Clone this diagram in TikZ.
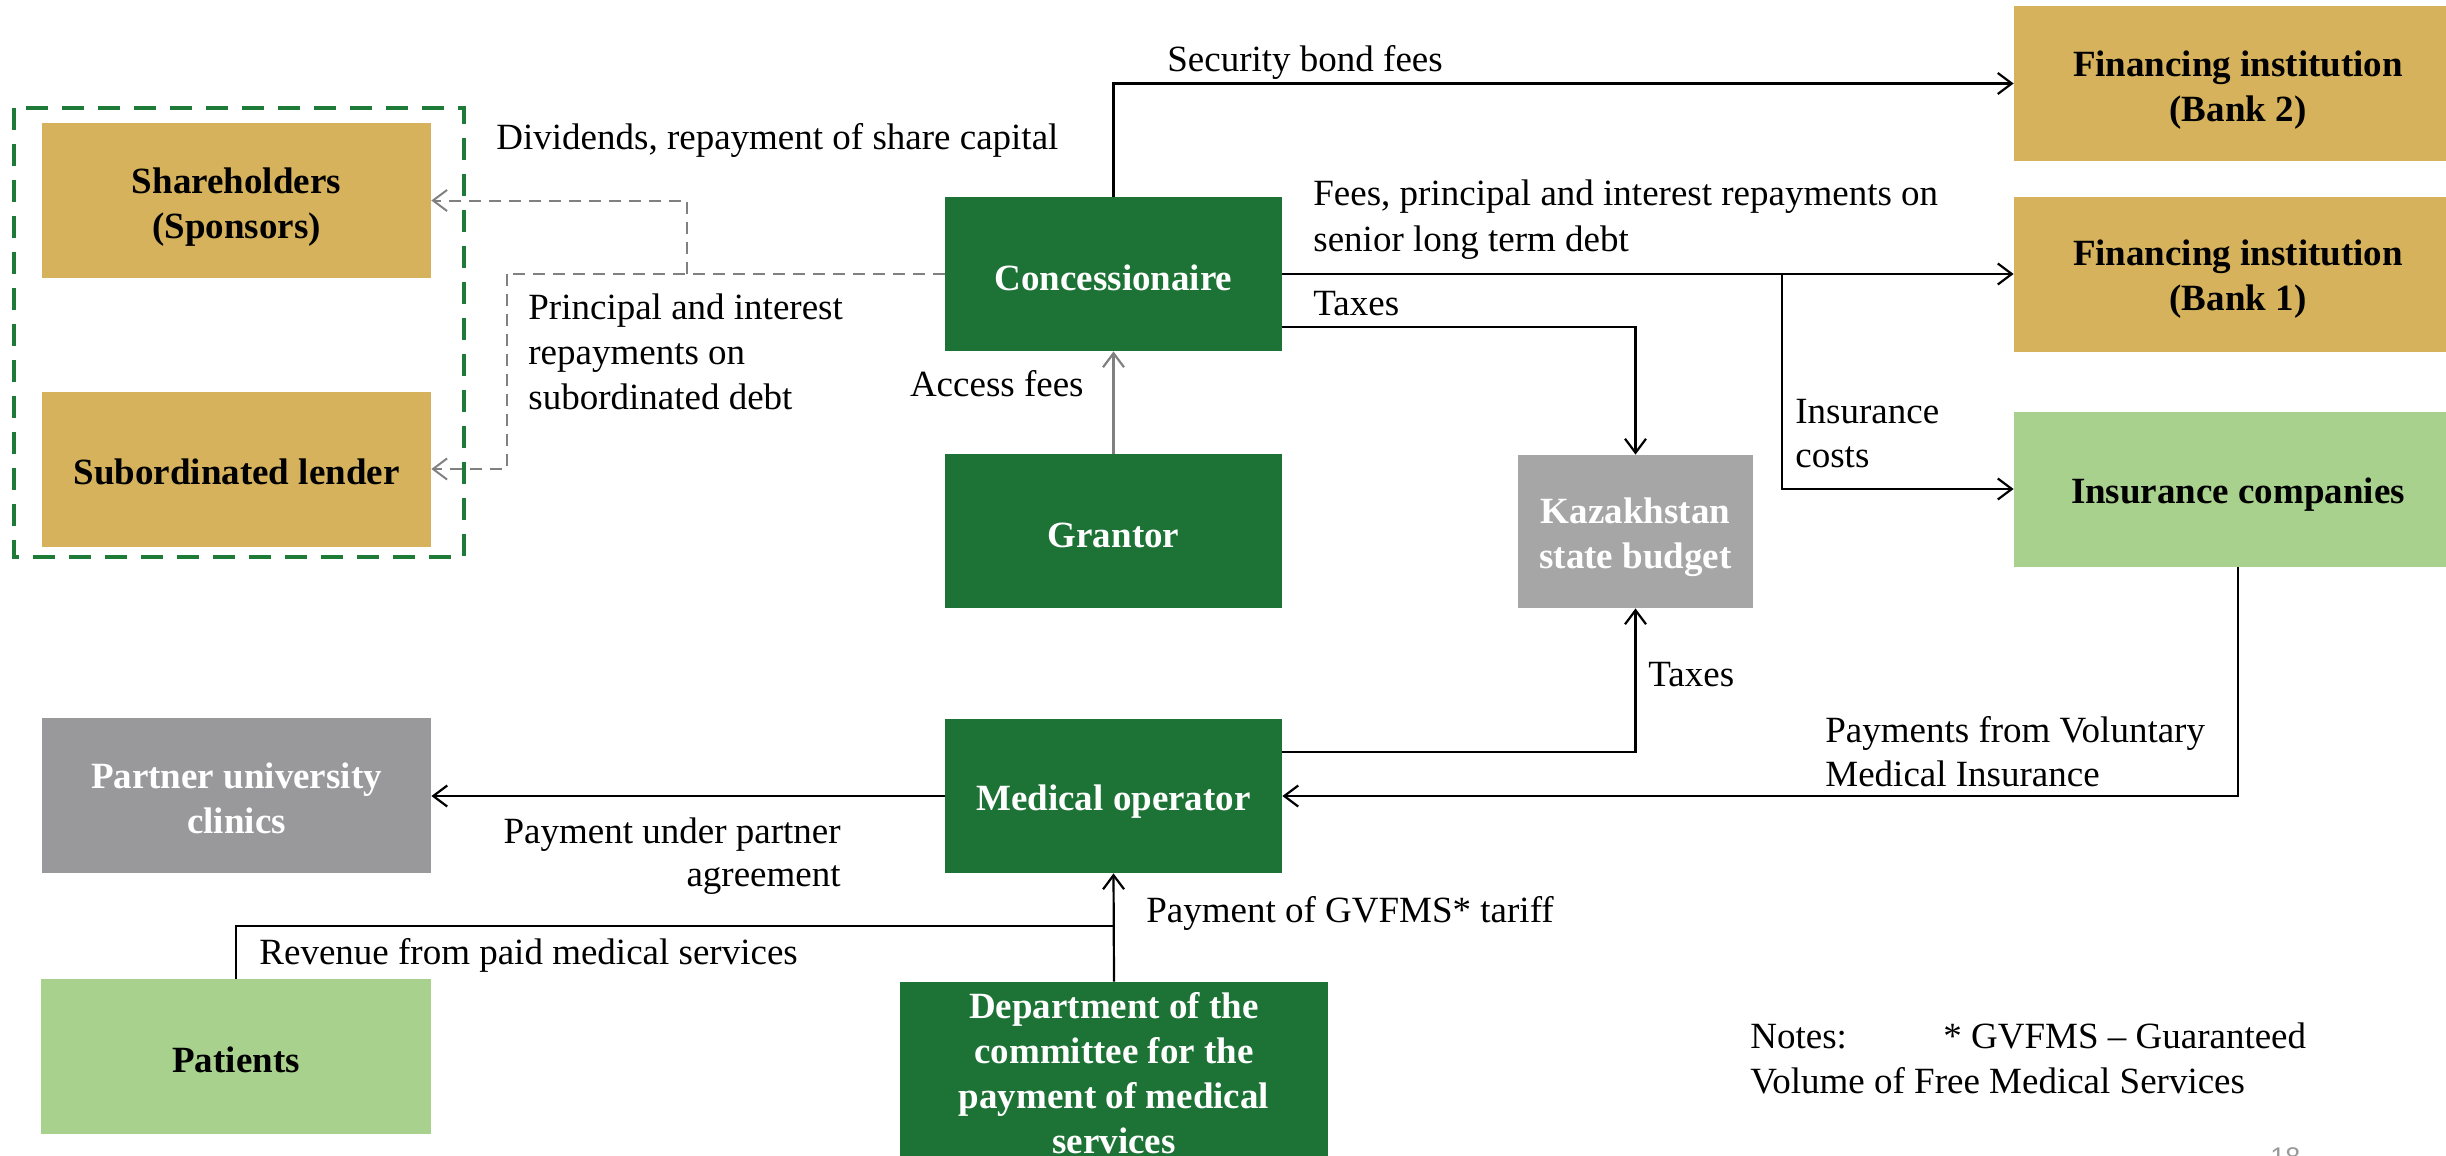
\documentclass[tikz,border=0pt]{standalone}
\usepackage{fontspec}
\setmainfont{Liberation Serif}
\newfontfamily\pagenumfont{Liberation Sans}
\usetikzlibrary{arrows.meta,calc}
\definecolor{dkgreen}{RGB}{29,115,53}
\definecolor{tanbox}{RGB}{214,178,92}
\definecolor{ltgreen}{RGB}{169,209,142}
\definecolor{boxgray}{RGB}{166,166,166}
\definecolor{darkboxgray}{RGB}{153,153,155}
\definecolor{dashgray}{RGB}{128,128,128}
\definecolor{framegreen}{RGB}{30,122,55}
\begin{document}
\begin{tikzpicture}[x=0.5pt,y=-0.5pt,
  font=\fontsize{18.5}{22.5}\selectfont,
  box/.style={draw=none, inner sep=0pt},
  btxt/.style={align=center, inner sep=0pt, font=\fontsize{18.5}{22.5}\selectfont\bfseries},
  wtxt/.style={btxt, text=white},
  ktxt/.style={btxt, text=black},
  wide/.style={minimum width=194.5pt, minimum height=77.5pt},
  mid/.style={minimum width=168.5pt, minimum height=77pt},
  right/.style={minimum width=224pt, minimum height=77.5pt},
  greenbox/.style={box, fill=dkgreen},
  tanb/.style={box, fill=tanbox},
  ltb/.style={box, fill=ltgreen},
  lbl/.style={anchor=base west, inner sep=0pt},
  lblr/.style={anchor=base east, inner sep=0pt},
  arr/.style={draw=black, line width=1.1pt, -{Straight Barb[length=7pt,width=10.5pt,line width=1.1pt]}},
  plain/.style={draw=black, line width=1.1pt},
  grayarr/.style={draw=dashgray, line width=1.1pt, -{Straight Barb[length=7pt,width=10.5pt,line width=1.1pt]}},
  dsh/.style={draw=dashgray, line width=1pt, dash pattern=on 6pt off 4pt},
  dsharr/.style={dsh, -{Straight Barb[length=7pt,width=10.5pt,line width=1pt]}}
]
\useasboundingbox (0,0) rectangle (2446,1156);
\clip (0,0) rectangle (2446,1156);

% frame around sponsors
\draw[framegreen, line width=2.3pt, dash pattern=on 11pt off 7pt] (14,108) rectangle (464,557);

% boxes
\node[tanb, wide] (sh) at (236.5,200.5) {};
\node[tanb, wide] (sub) at (236.5,469) {};
\node[greenbox, mid] (conc) at (1113.5,274) {};
\node[greenbox, mid] (grantor) at (1113.5,531) {};
\node[box, fill=boxgray, minimum width=117.5pt, minimum height=76.5pt] (kaz) at (1635.5,531.5) {};
\node[tanb, right] (bank2) at (2238,83.5) {};
\node[tanb, right] (bank1) at (2238,274) {};
\node[ltb, right] (ins) at (2238,489) {};
\node[box, wide, fill=darkboxgray] (partner) at (236.5,795) {};
\node[greenbox, mid] (medop) at (1113.5,796) {};
\node[ltb, minimum width=195pt, minimum height=77.5pt] (patients) at (236,1056.5) {};
\node[greenbox, minimum width=214pt, minimum height=91pt] (dept) at (1114,1073) {};

% box texts
\node[ktxt] (sht) at ($(sh.center)+(0,7)$) {Shareholders\\(Sponsors)};
\node[ktxt] (subt) at ($(sub.center)+(0,3)$) {Subordinated lender};
\node[wtxt] (conct) at ($(conc.center)+(0,4)$) {Concessionaire};
\node[wtxt] (grantort) at ($(grantor.center)+(0,4)$) {Grantor};
\node[wtxt] (kazt) at ($(kaz.center)+(0,6)$) {Kazakhstan\\state budget};
\node[ktxt] (bank2t) at ($(bank2.center)+(0,7)$) {Financing institution\\(Bank 2)};
\node[ktxt] (bank1t) at ($(bank1.center)+(0,5)$) {Financing institution\\(Bank 1)};
\node[ktxt] (inst) at ($(ins.center)+(0,6)$) {Insurance companies};
\node[wtxt] (partnert) at ($(partner.center)+(0,3)$) {Partner university\\clinics};
\node[wtxt] (medopt) at ($(medop.center)+(0,6)$) {Medical operator};
\node[ktxt] (patientst) at ($(patients.center)+(0,3)$) {Patients};
\node[wtxt] (deptt) at (dept.center) {Department of the\\committee for the\\payment of medical\\services};

% helper coordinates
\coordinate (br) at (1782,274);
\coordinate (d1) at (687,274);
\coordinate (d2) at (507,274);
\coordinate (pj) at (1114,926);

% connectors
\draw[arr] (conc.north) |- (bank2.west);
\draw[arr] (conc.east) -- (bank1.west);
\draw[arr] (br) |- (ins.west);
\draw[arr] ($(conc.east)+(0,53)$) -| (kaz.north);
\draw[grayarr] (grantor.north) -- (conc.south);
\draw[dsh] (conc.west) -- (d2);
\draw[dsharr] (d2) |- (sub.east);
\draw[dsharr] (d1) |- (sh.east);
\draw[arr] ($(medop.east)+(0,-44)$) -| (kaz.south);
\draw[arr] (ins.south) |- (medop.east);
\draw[arr] (medop.west) -- (medop.west -| partner.east);
\draw[arr] (dept.north) -- (medop.south);
\draw[plain] (patients.north) |- (pj);

% labels
\node[lbl] (tsec) at (1167,72) {Security bond fees};
\node[lbl] (tdiv) at (496,149) {Dividends, repayment of share capital};
\node[lbl] (tpr1) at (528,319) {Principal and interest};
\node[lbl] (tpr2) at (528,364) {repayments on};
\node[lbl] (tpr3) at (528,409) {subordinated debt};
\node[lbl] (tfee1) at (1313,205) {Fees, principal and interest repayments on};
\node[lbl] (tfee2) at (1313,251) {senior long term debt};
\node[lbl] (ttax1) at (1313,315) {Taxes};
\node[lbl] (tins1) at (1795,423) {Insurance};
\node[lbl] (tins2) at (1795,467) {costs};
\node[lblr] (tacc) at (1084,396) {Access fees};
\node[lbl] (ttax2) at (1648,686) {Taxes};
\node[lbl] (tvmi1) at (1825,742) {Payments from Voluntary};
\node[lbl] (tvmi2) at (1825,786) {Medical Insurance};
\node[lblr] (tpart1) at (841,843) {Payment under partner};
\node[lblr] (tpart2) at (841,886) {agreement};
\node[lbl] (tgv) at (1146,922) {Payment of GVFMS* tariff};
\node[lbl] (trev) at (259,964) {Revenue from paid medical services};
\node[lbl] (tn1) at (1750,1048) {Notes:};
\node[lbl] (tn2) at (1943,1048) {* GVFMS -- Guaranteed};
\node[lbl] (tn3) at (1750,1093) {Volume of Free Medical Services};
\node[lbl, text=black!40, font=\pagenumfont\fontsize{13.5}{16}\selectfont] (pgn) at (2270,1166) {18};
\end{tikzpicture}
\end{document}
